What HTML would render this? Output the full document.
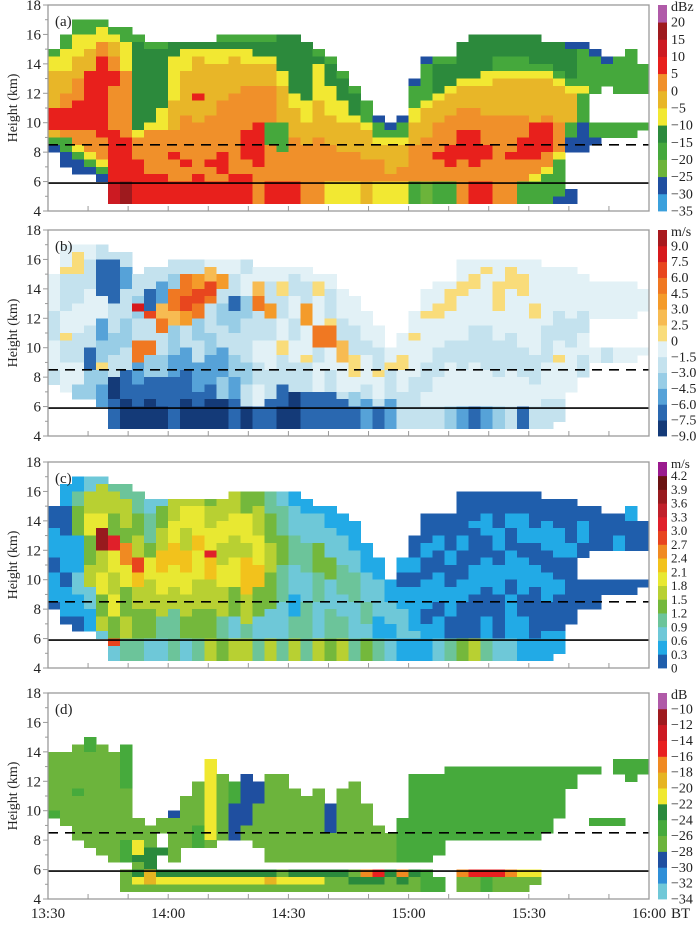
<!DOCTYPE html>
<html><head><meta charset="utf-8"><style>
html,body{margin:0;padding:0;background:#fff;}
svg{display:block;font-family:"Liberation Serif",serif;}
</style></head><body>
<svg id="fig" width="700" height="925" viewBox="0 0 700 925" xmlns="http://www.w3.org/2000/svg"></svg>
<script>
// ---- data ----
const colStartMin = [0,3,6,9,12,15,18,21,24,27,30,33,36,39,42,45,48,51,54,57,60,63,66,69,72,75,78,81,84,87,90,93,96,99,102,105,108,111,114,117,120,123,126,129,132,135,138,141,144,147];
const xTickLabels = ["13:30","14:00","14:30","15:00","15:30","16:00"];
const xTickMin = [0,30,60,90,120,150];
const yTickKm = [4,6,8,10,12,14,16,18];
const solidLineKm = 5.9;
const dashedLineKm = 8.5;

// panel (a) reflectivity, rows of 0.5 km from 18 km downward
const panelACols = [
"g6 y7-8 Y9-13 r14-16 Y17 g18 b19",
"g4-5 y6-8 Y9-11 o12-13 r14-16 o17 g18-19 b20-21",
"g2-3 y4-6 Y7-9 o10-12 r13-16 o17-18 y19 g20 b21-22",
"g2-3 y4-5 Y6-8 r9-16 o17-19 y20 g21 b22",
"g2 y3-4 o5-6 r7-14 r15-17 o18-20 y21 g22 b23",
"g3 y4 Y5-6 o7-8 r9-10 o11-16 r17-23 R24-26",
"g3-4 y5-8 o9-11 o12-17 r18-23 K24-26",
"g4 D5-16 y17 o18-20 r21-23 r24-26",
"g5 D6-15 y16 o17-22 r23-26",
"g5 D6-13 y14-16 o17-22 r23-26",
"D5-6 y7-12 Y13-16 o17-19 r20 o21-23 r24-26",
"D5 y6-8 Y9-14 o15-20 r21 o22-23 r24-26",
"D5 y6 Y7-11 r12 Y13-15 o16-22 r23-26",
"D5 y6-7 Y8-14 o15-20 r21 o22-23 r24-26",
"g4 D5 y6-7 Y8-12 o13-19 r20-22 o23 r24-26",
"g4 D5 y6 Y7-11 o12-19 o20-22 r23-26",
"g4 D5 y6-7 Y8-10 o11-16 r17-20 o21-22 r23-26",
"g4 D5-6 y7 Y8-10 o11-15 r16-21 o22-26",
"g4 D5-6 y7 Y8-10 o11-15 g16-18 o19-23 r24-26",
"D4-8 y9-10 Y11-15 g16-19 o20-23 r24-26",
"D4-11 y12-13 Y14-17 o18-23 r24-26",
"D5-12 y13-15 Y16-18 o19-23 o24-26",
"g6 D7 y8-12 Y13-17 o18-23 o24-26",
"g7 D8-10 y11-14 Y15-18 o19-23 y24-26",
"g9 D10-12 y13-15 Y16-19 o20-23 y24-26",
"g11 D12-14 y15 Y16-19 o20-23 y24-26",
"g13-15 y16 Y17-20 o21-23 Y24-26",
"b15 g16-17 y18 Y19-20 o21-23 y24-26",
"b16 g17 y18 Y19-22 o23 y24-26",
"b15 g16-17 y18 Y19-21 o22-23 y24-26",
"b10 g11-13 y14-15 Y16-18 o19-23 g24-26",
"b7 g8-12 y13 Y14-17 o18-23 l24-26",
"g7 D8-11 y12 Y13-15 o16-19 r20 o21-23 g24-26",
"g7 D8-10 y11 Y12-14 o15-18 r19-21 o22-23 g24-26",
"D5-9 y10 Y11-13 o14-16 r17-20 o21-23 o24-26",
"D4-9 y10 Y11-13 o14-16 r17-21 o22-23 r24-26",
"D4-8 y9-10 Y11-14 o15-18 r19-20 o21-23 r24-26",
"D4-6 g7-8 y9 Y10-14 o15-23 o24-26",
"D4-6 g7-8 y9 Y10-14 o15-19 r20 o21-23 o24-26",
"D4-6 g7-8 y9 Y10-14 o15-17 r18-20 o21-23 g24-26",
"D4-7 g8 y9 Y10-15 r16-20 o21-22 y23 g24-26",
"D5-7 g8 y9 Y10-14 o15 r16-19 o20-21 y22 g23-26",
"D5-8 g9 y10 Y11-15 o16-19 y20 g21-22 g23-25 b26",
"b5 D6-9 g10 y11 Y12-15 g16-17 b18-19 b25-26",
"b5 g6-10 y11 g12-15 b16-19",
"b6 g7-11 g16-17 b18",
"b7 g8-10 g16-17",
"g7-11 g16-17",
"g6-11 g16-17",
"g8-11 g16"
];
// panel (b) radial velocity
const panelBCols = [
"w6-10 l11-14 w15-18 l19-20",
"w2-4 p5 l6-10 w11-13 p14 l15-17 w18-21",
"w2 p3-5 l6-9 w10-13 l14-17 w18-20 L21-22",
"w2-3 l4-7 w8-12 l13-15 M16-18 L19-22",
"l2-3 M4-8 w9-11 m12-14 L15-17 p18 L19-20 m21-23",
"l3 M4-9 l10-13 L14-16 l17-19 N20-22 M23-26",
"l3-4 m5-7 l8-11 L12-15 l16-18 M19-22 N23-26",
"l6-8 L9-11 r10 l12-14 o15-17 m18-20 M21-23 N24-26",
"l5-7 M8-10 x11 l12-14 o15-16 L17-19 M20-22 N23-26",
"l5-6 m7-9 q10-11 o12-13 l14-16 L17-19 M20-23 N24-26",
"l4-5 L6-7 o8-10 q11-12 L13-16 m17-19 M20-22 M23-26",
"l4-5 o6-8 x9-10 O11-12 l13-15 m16-18 M19-22 N23-26",
"l4-5 O6-7 x8-9 o10-11 L12-14 l15-17 m18-21 M22-23 N24-26",
"w4 q5-6 x7-8 o9 l10-13 L14-16 m17-20 M21-22 N23-26",
"w4-5 O6-7 l8-9 L10-12 l13-15 m16-19 L20-22 N23-26",
"w4-5 l6-8 M9-10 L11-13 l14-16 L17-19 m20-22 M23-26",
"l4-5 w6-8 L9-11 l12-14 l15-17 L18-20 l21-23 N24-26",
"w5-6 q7-8 o9-10 l11-14 w15-17 l18-20 w21-23 M24-26",
"w5-6 l7-9 O10-11 l12-14 w15-18 l19-22 M23-26",
"w5-6 p7-8 l9-11 w12-14 p15-16 l17-20 M21-23 N24-26",
"w5 l6-8 w9-11 l12-14 w15-17 l18-21 N22-26",
"w5-6 l7-9 O10-12 w13-16 p17 l18-21 M22-26",
"w6 p7-8 w9-12 o13-15 l16-17 w18-21 M22-26",
"w6-7 l8-11 p12 o13-15 w16-18 l19-21 M22-26",
"w8-11 l12-14 q15-17 w18-21 l22 M23-26",
"w9-12 l13-16 p17-19 w20-21 L22-23 M24-26",
"w11-14 l15-16 w17-20 l21-22 m23-26",
"w13-15 l16-18 p19 w20-22 l23 M24-26",
"w16-17 p18 l19-22 m23-26",
"w14-16 p17-18 w19-21 l22-26",
"w11-13 p14 w15-19 l20-22 l23-26",
"w8-10 p11 w12-17 l18-21 w22-23 l24-26",
"w7-9 p10-11 w12-15 l16-19 w20-23 l24-26",
"w7 p8-10 w11-14 l15-17 w18-23 L24-26",
"w4-6 p7-8 w9-14 l15-18 w19-23 m24-26",
"w4-5 p6-7 w8-12 l13-17 w18-23 M24-26",
"w4 p5 w6-12 l13-18 w19-23 m24-26",
"w4-6 p7-10 w11-14 l15-19 w20-23 L24-26",
"w4 p5-7 w8-13 l14-18 w19-23 l24-26",
"w4-5 p6-8 w9-15 l16-19 w20-23 M24-26",
"w4-9 p10-11 w12-16 l17-20 w21-23 l24-26",
"w5-12 l13-17 w18-22 l23-26",
"w5-10 l11-14 w15-16 p17 w18-22 l23-25",
"w5-11 l12-15 w16-21",
"w6-10 l11-13 w14-16 l17-19",
"w7-11 w16-17",
"w7-11 l16-17",
"w7-11 w16-17",
"w7-11 w16-17",
"w8-10 w16"
];
// panel (c) spectrum width
const panelCCols = [
"U6-8 s9-12 U13-14 s15-18 U19",
"s3-5 U6-9 s10-14 U15-16 s17-20 U21",
"s2-3 t4-5 g6-9 s10-14 c15-17 s18-20 U21-22",
"c2-3 v4-6 y7-9 g10-13 v14-16 c17-19 s20-22",
"c2 v3-6 y7-8 K9-11 v12-14 y15-17 g18-20 v21-22 c23",
"t3 v4-6 g7-9 r10-11 y12-14 v15-17 y18-20 g21-23 x24 c25-26",
"t3-4 v5-8 g9-10 o11-13 y14-16 g17-20 v21-23 t24-26",
"t4-6 g7-9 v10-12 x13-14 Y15-16 v17-19 g20-23 t24-26",
"c5-6 t7-10 g11-12 y13-15 v16-19 g20-23 c24-26",
"c5 g6-8 v9-11 Y12-14 y15-17 v18-20 t21-23 c24-26",
"v5-7 y8-10 Y11-13 y14-16 v17-19 t20-23 t24-26",
"v5 y6-8 v9-11 Y12-14 y15-17 v18-20 g21-23 c24-26",
"v5 y6-9 Y10-11 y12-15 v16-19 g20-23 t24-26",
"g5 v6-8 y9-11 r12 Y13-15 v16-19 g20-23 v24-26",
"v5-7 y8-10 v11-13 y14-16 v17-20 t21-23 g24-26",
"v4-6 y7-9 v10-12 y13-16 g17-20 c21-23 v24-26",
"g4-6 y7-10 v11-12 Y13-17 v18-21 t22-23 v24-26",
"g4-5 v6-9 y10-13 Y14-16 g17-20 c21-23 t24-26",
"t4-6 g7-10 v11-14 g15-19 c20-23 v24-26",
"c4-5 t6-9 g10-13 t14-18 c19-23 t24-26",
"s4-5 c6-9 t10-13 c14-17 s18-20 t21-23 v24-26",
"s5-6 c7-10 t11-14 c15-18 t19-23 t24-26",
"s6 c7-10 g11-14 t15-18 c19-23 v24-26",
"s6-8 c9-12 g13-15 c16-19 t20-23 g24-26",
"s7-9 c10-13 t14-17 c18-20 t21-23 v24-26",
"s8-11 c12-14 t15-18 c19-23 t24-26",
"s11-14 c15-18 t19-21 c22-23 g24-26",
"s13-15 c16-20 s21-23 t24-26",
"s16-18 c19-21 s22-23 c24-26",
"s13-14 U15-16 s17-19 c20-23 s24-26",
"U10-12 s13-14 U15-16 s17-22 c23 s24-26",
"U7-10 s11-12 U13-15 s16-19 U20-21 s22-23 s24-26",
"U7-9 s10-11 U12-14 s15-18 U19-20 s21-23 c24-26",
"U7-11 s12-13 U14-16 s17-20 U21-23 t24-26",
"U4-9 s10-11 U12-15 s16-18 U19-23 g24-26",
"U4-7 s8 U9-13 s14-17 U18-23 v24-26",
"U4-6 s7-9 U10-12 s13-16 U17-20 s21-23 t24-26",
"U4-8 s9-11 U12-13 s14-17 U18-23 c24-26",
"U4-6 s7-8 U9-11 s12-15 U16-17 s18-23 c24-26",
"U4-6 s7-10 U11-12 s13-17 U18-20 s21-23 s24-26",
"U4-8 s9-10 U11-13 s14-16 U17-23 s24-26",
"U5-7 s8-11 U12-14 s15-18 U19-22 s23-26",
"U5-8 s9-12 U13-15 s16-17 U18-22 s23-25",
"U5-10 s11-12 U13-15 U16-19 U20-21",
"U6-7 s8-10 U11-12 U16-19",
"U6-11 U16-19",
"U7-11 U16-17",
"U7-9 s10-11 U16-17",
"s6-7 U8-11 U16-17",
"U8-11 U16"
];
// panel (d)
const panelDCols = [
"l8-15 g16",
"l8-17",
"l7-12 g13 l14-19",
"g6-7 l8-20",
"l7-21",
"l8-22",
"g7-12 l13-19 g20-22 l24-26",
"l17-19 y20-21 D22 l23 D24 y25 l26",
"l18-20 D21-23 Y24-25 l26",
"l17-18 D21 D24 y25 l26",
"b16 l17-22 D24 y25 l26",
"l14-20 D24 y25 l26",
"l12-17 g18-20 D24 y25 l26",
"y9-19 l20 D24 y25 l26",
"l11-19 D24 y25 l26",
"g12-14 b15-19 D24 y25 l26",
"b11-17 l18-19 D24 y25 l26",
"b12-14 l15-20 D24 y25 l26",
"l11-22 D24 Y25 l26",
"l11-22 l24 y25 l26",
"l13-22 D24 y25 l26",
"l14-22 D24 y25 l26",
"l13-22 D24 y25 l26",
"b15-18 l19-22 D24 l25 l26",
"l13-22 D24 l25 l26",
"l12-22 l24 D25 l26",
"l15-22 o24 D25 l26",
"l18-22 r24 D25 l26",
"l19-22 D24 l25 l26",
"g17-22 o24 D25 l26",
"g11-22 D24 l25-26",
"g11-22 g24-26",
"g11-21 g25-26",
"g10-19",
"g10-19 o24 l25-26",
"g10-19 r24 l25-26",
"g10-19 r24 g25-26",
"g10-19 r24 l25-26",
"g10-19 o24 l25-26",
"g10-19 y24 l25-26",
"g10-19 y24 l25",
"g10-18",
"g10-16",
"g10-12",
"g10",
"g10 g17",
"g17",
"g9-10 g17",
"g9-11",
"g9-10"
];
// colour bars (bins bottom -> top)
const cbALabels = ["−35","−30","−25","−20","−15","−10","−5","0","5","10","15","20"];
const cbBLabels = ["−9.0","−7.5","−6.0","−4.5","−3.0","−1.5","0","2.5","3.0","4.5","6.0","7.5","9.0"];
const cbCLabels = ["0","0.3","0.6","0.9","1.2","1.5","1.8","2.1","2.4","2.7","3.0","3.3","3.6","3.9","4.2"];
const cbDLabels = ["−34","−32","−30","−28","−26","−24","−22","−20","−18","−16","−14","−12","−10"];

// palettes (code -> colour), bin order bottom->top
const palA = [["B","#3ba0dc"],["b","#1f4fa0"],["l","#6cb43a"],["g","#45a83c"],["D","#2c8a3c"],["y","#f2e832"],["Y","#e8b628"],["o","#f0902a"],["r","#e8201c"],["R","#cc1a22"],["K","#9e1a1e"],["P","#b05aa8"]];
const palB = [["N","#143a78"],["M","#2a68b0"],["m","#56a2d8"],["L","#98cde6"],["l","#c4e2ee"],["w","#e2f1f6"],["p","#f9dc7a"],["q","#f7bb52"],["O","#f49b2a"],["o","#f07822"],["x","#e8461e"],["r","#d7191c"],["K","#a8191e"]];
const palC = [["U","#1f5eac"],["s","#22aae6"],["c","#6ec8d8"],["t","#6cc49a"],["g","#74b83c"],["v","#b8d032"],["y","#e8e832"],["Y","#f2c21c"],["o","#f08a22"],["x","#e8441e"],["r","#e0202a"],["R","#c0202a"],["K","#981a1e"],["Z","#6a1212"],["P","#9a1a8e"]];
const palD = [["c","#70c8d8"],["s","#2f8fd8"],["b","#1f4fa0"],["l","#6cb43c"],["g","#46aa3c"],["D","#2a8a3c"],["y","#f0e830"],["Y","#e6b422"],["o","#f08a22"],["r","#e82020"],["R","#cc1a22"],["K","#9e1a1e"],["P","#b05aa8"]];

// ---- layout ----
const NS = "http://www.w3.org/2000/svg";
const svg = document.getElementById("fig");
const plotL = 48, plotR = 649, panelH = 206;
const panelTops = [5, 230, 462, 693];
const cbX = 658, cbW = 9;
function xScale(m){ return plotL + m * (plotR - plotL) / 150; }
function yScaleFor(top){ return function(h){ return top + (18 - h) * panelH / 14; }; }
function el(tag, attrs, parent){ const e = document.createElementNS(NS, tag); for (const k in attrs) e.setAttribute(k, attrs[k]); (parent || svg).appendChild(e); return e; }

const panels = [
  {key:"a", cols:panelACols, pal:palA, cb:cbALabels, unit:"dBz", name:"reflectivity", fs:14},
  {key:"b", cols:panelBCols, pal:palB, cb:cbBLabels, unit:"m/s", name:"radial-velocity", fs:14},
  {key:"c", cols:panelCCols, pal:palC, cb:cbCLabels, unit:"m/s", name:"spectrum-width", fs:13},
  {key:"d", cols:panelDCols, pal:palD, cb:cbDLabels, unit:"dB", name:"ldr", fs:14}
];

panels.forEach((p, pi) => {
  const top = panelTops[pi];
  const yS = yScaleFor(top);
  const col = {}; p.pal.forEach(([k,c]) => col[k] = c);
  const g = el("g", {});
  
  
  const clipId = "clip" + p.key;
  const cp = el("clipPath", {id: clipId}, g);
  el("rect", {x: plotL, y: top, width: plotR - plotL, height: panelH}, cp);
  const field = el("g", {"clip-path": "url(#" + clipId + ")", "shape-rendering": "crispEdges"}, g);
  
  
  p.cols.forEach((s, i) => {
    const re = /([A-Za-z])(\d+)(?:-(\d+))?/g; let m;
    const x0 = xScale(colStartMin[i]), x1 = xScale(colStartMin[i] + 3);
    while ((m = re.exec(s))) {
      const r0 = +m[2], r1 = m[3] ? +m[3] : r0;
      const hTop = 18 - 0.5 * r0, hBot = 18 - 0.5 * (r1 + 1);
      const rc = el("rect", {x: x0.toFixed(2), y: yS(hTop).toFixed(2), width: (x1 - x0 + 0.6).toFixed(2), height: (yS(hBot) - yS(hTop) + 0.5).toFixed(2), fill: col[m[1]]}, field);
      
      
    }
  });
  const ls = el("line", {x1: plotL, x2: plotR, y1: yS(solidLineKm), y2: yS(solidLineKm), stroke: "#000", "stroke-width": 1.6}, g);
  
  
  const ld = el("line", {x1: plotL, x2: plotR, y1: yS(dashedLineKm), y2: yS(dashedLineKm), stroke: "#000", "stroke-width": 1.6, "stroke-dasharray": "10,7"}, g);
  
  
  const fr = el("rect", {x: plotL, y: top, width: plotR - plotL, height: panelH, fill: "none", stroke: "#9a9a9a", "stroke-width": 1.3}, g);
  
  
  for (let h = 4; h <= 18; h++) {
    const y = yS(h), major = h % 2 === 0;
    const t = el("line", {x1: plotL - (major ? 5 : 3), x2: plotL, y1: y, y2: y, stroke: "#9a9a9a", "stroke-width": 1}, g);
    
    
  }
  yTickKm.forEach(h => {
    const t = el("text", {x: plotL - 7, y: yS(h) + 5, "text-anchor": "end", "font-size": 15, fill: "#222"}, g);
    t.textContent = h;
    
    
  });
  const yt = el("text", {x: 0, y: 0, "text-anchor": "middle", "font-size": 14, fill: "#222", transform: "translate(17," + (top + panelH / 2) + ") rotate(-90)"}, g);
  yt.textContent = "Height (km)";
  
  
  for (let mm = 0; mm <= 150; mm += 10) {
    const x = xScale(mm);
    const t = el("line", {x1: x, x2: x, y1: top + panelH, y2: top + panelH - 5, stroke: "#9a9a9a", "stroke-width": 1}, g);
    
    
  }
  const pl = el("text", {x: 55, y: top + 21, "font-size": 15, fill: "#222"}, g);
  pl.textContent = "(" + p.key + ")";
  
  
  const n = p.pal.length, binH = panelH / n;
  const cbg = el("g", {}, g);
  
  
  p.pal.forEach(([k, c], bi) => {
    const r = el("rect", {x: cbX, y: (top + panelH - (bi + 1) * binH).toFixed(2), width: cbW, height: (binH + 0.4).toFixed(2), fill: c}, cbg);
    
    
  });
  p.cb.forEach((lab, bi) => {
    const t = el("text", {x: cbX + cbW + 4, y: (top + panelH - bi * binH + 4.5).toFixed(2), "font-size": p.fs, fill: "#222"}, cbg);
    t.textContent = lab;
    
    
  });
  const u = el("text", {x: cbX + cbW + 4, y: top + 6, "font-size": p.fs, fill: "#222"}, cbg);
  u.textContent = p.unit;
  
  
});

xTickLabels.forEach((lab, i) => {
  const t = el("text", {x: xScale(xTickMin[i]), y: 918, "text-anchor": "middle", "font-size": 15, fill: "#222"});
  t.textContent = lab;
  
  
});
const bt = el("text", {x: xScale(150) + 22, y: 918, "font-size": 15, fill: "#222"});
bt.textContent = "BT";


</script>
</body></html>
